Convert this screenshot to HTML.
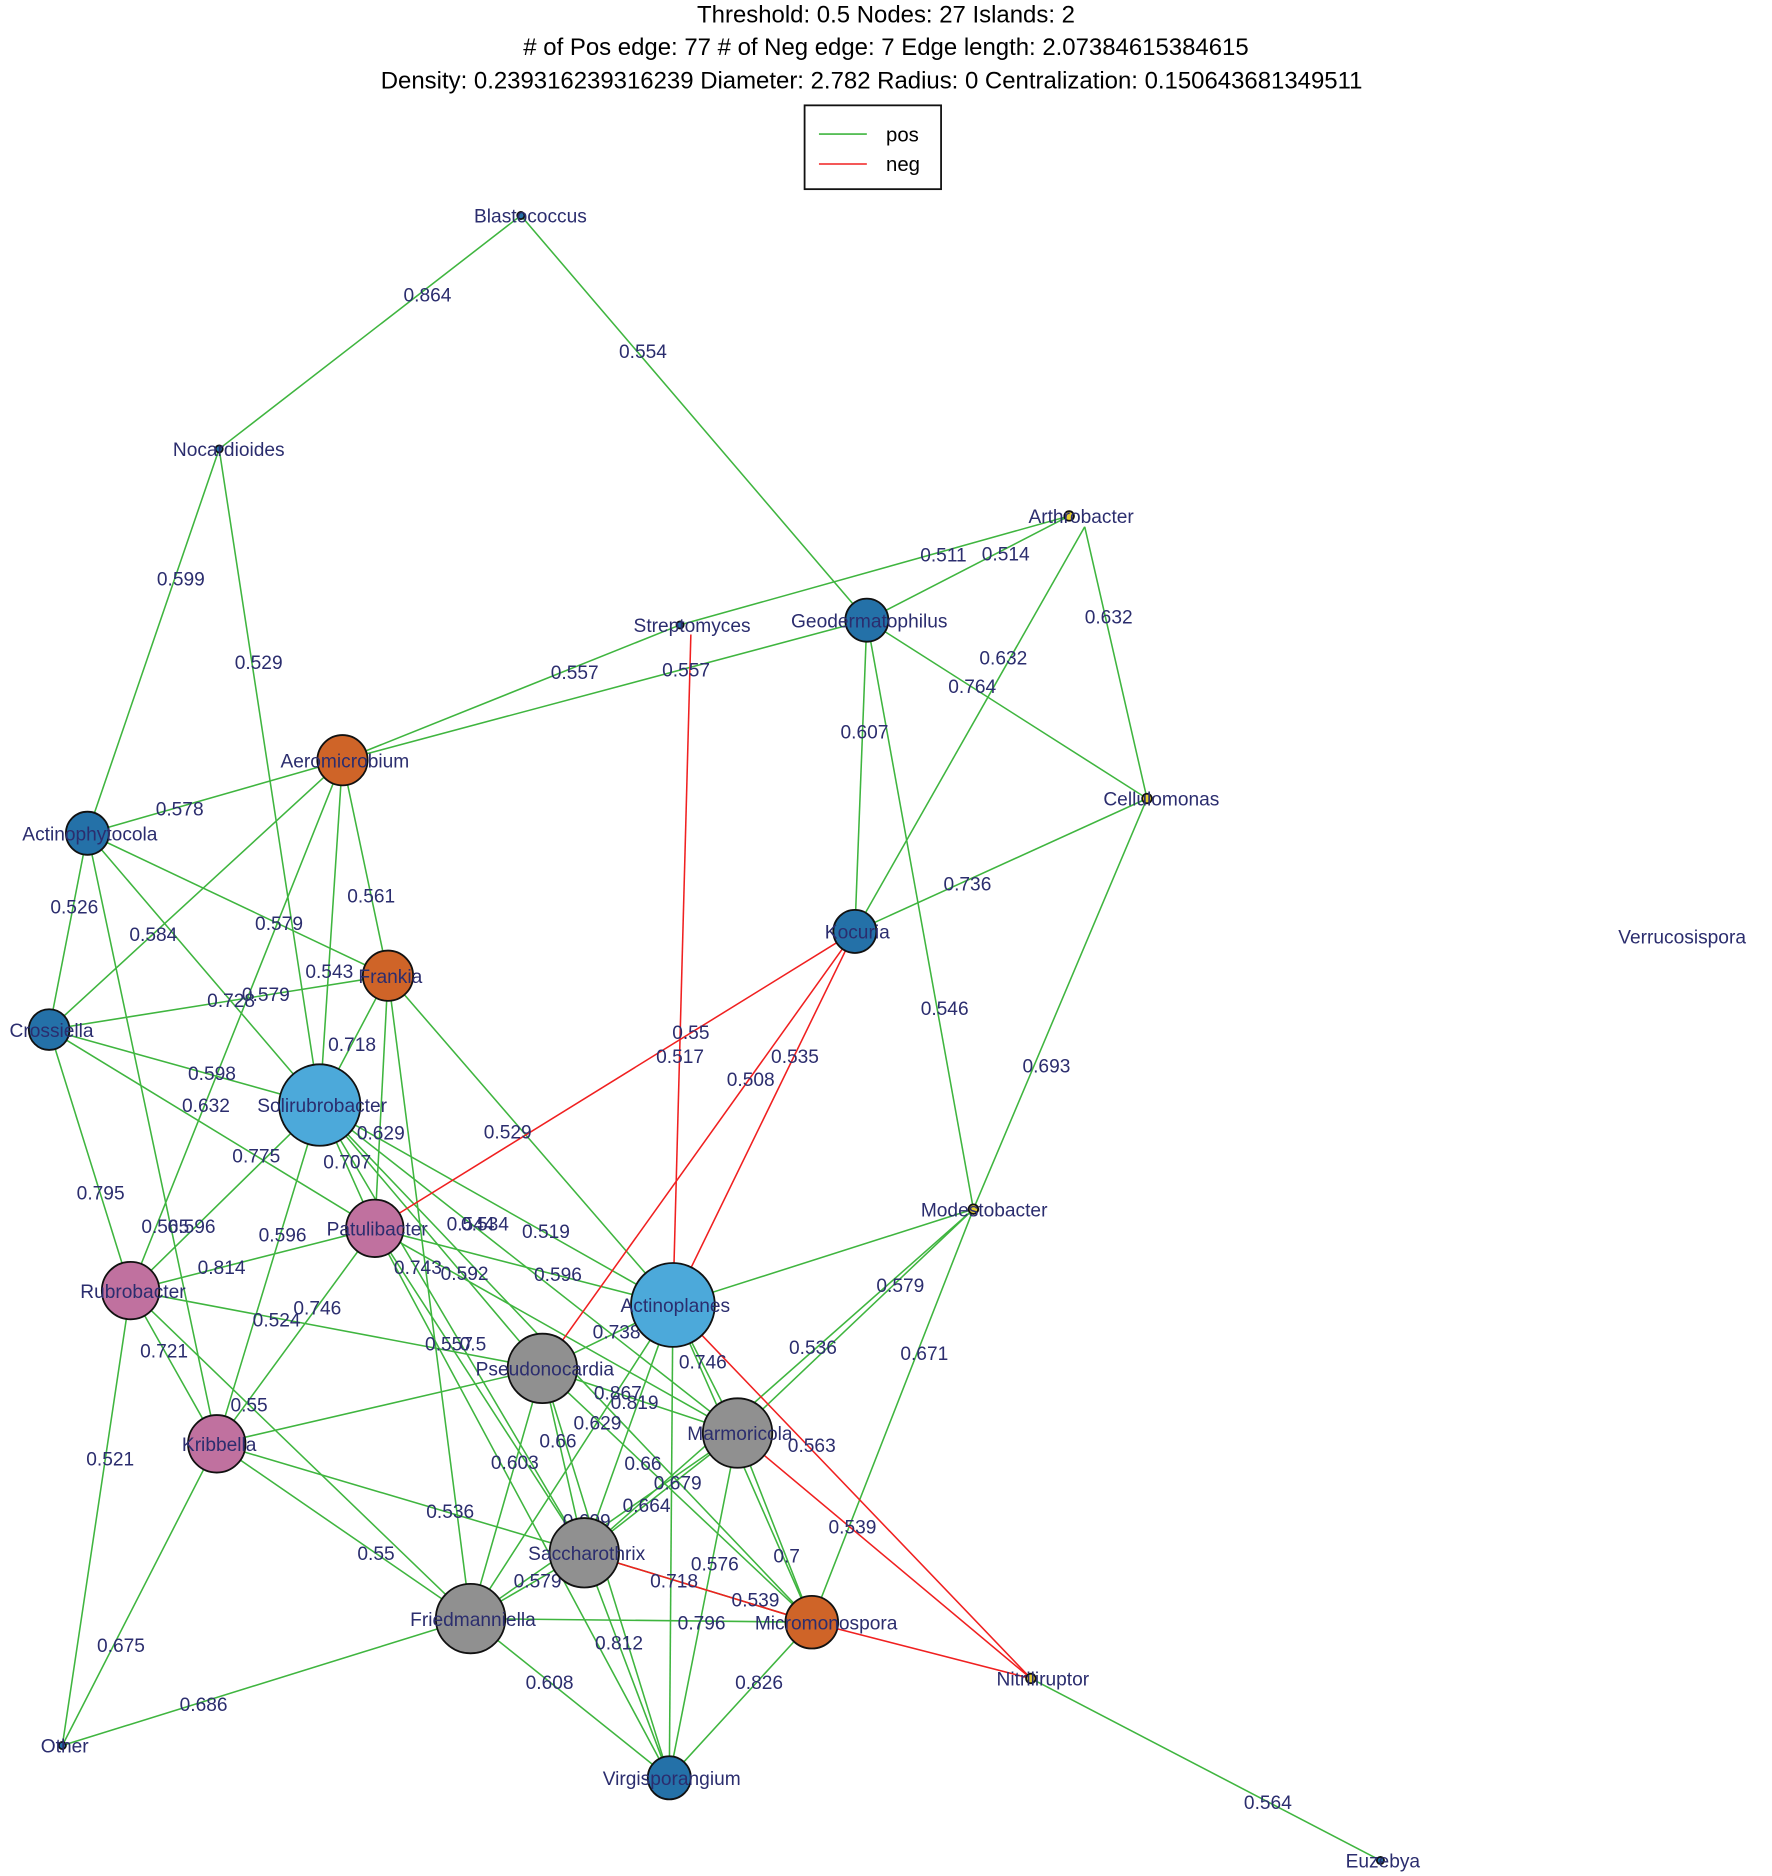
<!DOCTYPE html>
<html><head><meta charset="utf-8"><style>
html,body{margin:0;padding:0;background:#fff}
svg{display:block}
.e{stroke:#3fb53f;stroke-width:1.3;fill:none}
.r{stroke:#f02020;stroke-width:1.3;fill:none}
.l{font-family:"Liberation Sans",sans-serif;font-size:16px;fill:#2b2d6e;text-anchor:middle}
.n{font-family:"Liberation Sans",sans-serif;font-size:16px;fill:#2b2d6e;text-anchor:middle}
.t{font-family:"Liberation Sans",sans-serif;font-size:20px;fill:#000;text-anchor:middle}
circle{stroke:#111;stroke-width:1.5}
</style></head><body>
<svg width="1772" height="1876" viewBox="0 0 1480 1567" xmlns="http://www.w3.org/2000/svg">
<text class="t" x="740" y="19">Threshold:  0.5   Nodes:  27   Islands:  2</text>
<text class="t" x="740" y="46">#  of Pos edge:  77   # of Neg edge:  7   Edge length:  2.07384615384615</text>
<text class="t" x="728" y="74">Density:  0.239316239316239   Diameter:  2.782   Radius:  0   Centralization:  0.150643681349511</text>
<rect x="672" y="88" width="114" height="70" fill="#fff" stroke="#111" stroke-width="1.5"/>
<line x1="684" y1="112" x2="724" y2="112" class="e"/>
<line x1="684" y1="137" x2="724" y2="137" class="r"/>
<text x="740" y="118" style="font-family:'Liberation Sans',sans-serif;font-size:17px">pos</text>
<text x="740" y="143" style="font-family:'Liberation Sans',sans-serif;font-size:17px">neg</text>

<g class="e">
<line x1="435" y1="180" x2="183" y2="375"/>
<line x1="435" y1="180" x2="724" y2="518"/>
<line x1="183" y1="375" x2="73" y2="696"/>
<line x1="183" y1="375" x2="267" y2="923"/>
<line x1="893" y1="431" x2="568" y2="522"/>
<line x1="568" y1="522" x2="286" y2="635"/>
<line x1="893" y1="431" x2="724" y2="518"/>
<line x1="906" y1="440" x2="958" y2="667"/>
<line x1="906" y1="440" x2="714" y2="778"/>
<line x1="724" y1="518" x2="958" y2="667"/>
<line x1="724" y1="518" x2="286" y2="635"/>
<line x1="724" y1="518" x2="714" y2="778"/>
<line x1="724" y1="518" x2="813" y2="1010"/>
<line x1="958" y1="667" x2="714" y2="778"/>
<line x1="958" y1="667" x2="813" y2="1010"/>
<line x1="286" y1="635" x2="73" y2="696"/>
<line x1="286" y1="635" x2="324" y2="815"/>
<line x1="286" y1="635" x2="267" y2="923"/>
<line x1="286" y1="635" x2="41" y2="860"/>
<line x1="286" y1="635" x2="109" y2="1078"/>
<line x1="73" y1="696" x2="324" y2="815"/>
<line x1="73" y1="696" x2="267" y2="923"/>
<line x1="73" y1="696" x2="41" y2="860"/>
<line x1="73" y1="696" x2="181" y2="1206"/>
<line x1="41" y1="860" x2="324" y2="815"/>
<line x1="41" y1="860" x2="267" y2="923"/>
<line x1="41" y1="860" x2="313" y2="1026"/>
<line x1="41" y1="860" x2="109" y2="1078"/>
<line x1="324" y1="815" x2="267" y2="923"/>
<line x1="324" y1="815" x2="313" y2="1026"/>
<line x1="324" y1="815" x2="562" y2="1090"/>
<line x1="324" y1="815" x2="393" y2="1352"/>
<line x1="267" y1="923" x2="109" y2="1078"/>
<line x1="267" y1="923" x2="313" y2="1026"/>
<line x1="267" y1="923" x2="181" y2="1206"/>
<line x1="267" y1="923" x2="562" y2="1090"/>
<line x1="267" y1="923" x2="453" y2="1143"/>
<line x1="267" y1="923" x2="616" y2="1197"/>
<line x1="267" y1="923" x2="488" y2="1297"/>
<line x1="267" y1="923" x2="678" y2="1355"/>
<line x1="313" y1="1026" x2="109" y2="1078"/>
<line x1="313" y1="1026" x2="181" y2="1206"/>
<line x1="313" y1="1026" x2="562" y2="1090"/>
<line x1="313" y1="1026" x2="488" y2="1297"/>
<line x1="313" y1="1026" x2="559" y2="1485"/>
<line x1="313" y1="1026" x2="616" y2="1197"/>
<line x1="109" y1="1078" x2="453" y2="1143"/>
<line x1="109" y1="1078" x2="181" y2="1206"/>
<line x1="109" y1="1078" x2="52" y2="1458"/>
<line x1="109" y1="1078" x2="393" y2="1352"/>
<line x1="181" y1="1206" x2="453" y2="1143"/>
<line x1="181" y1="1206" x2="488" y2="1297"/>
<line x1="181" y1="1206" x2="393" y2="1352"/>
<line x1="181" y1="1206" x2="52" y2="1458"/>
<line x1="562" y1="1090" x2="453" y2="1143"/>
<line x1="562" y1="1090" x2="616" y2="1197"/>
<line x1="562" y1="1090" x2="488" y2="1297"/>
<line x1="562" y1="1090" x2="393" y2="1352"/>
<line x1="562" y1="1090" x2="559" y2="1485"/>
<line x1="562" y1="1090" x2="678" y2="1355"/>
<line x1="813" y1="1010" x2="562" y2="1090"/>
<line x1="813" y1="1010" x2="616" y2="1197"/>
<line x1="813" y1="1010" x2="678" y2="1355"/>
<line x1="813" y1="1010" x2="488" y2="1297"/>
<line x1="453" y1="1143" x2="616" y2="1197"/>
<line x1="453" y1="1143" x2="678" y2="1355"/>
<line x1="453" y1="1143" x2="488" y2="1297"/>
<line x1="453" y1="1143" x2="393" y2="1352"/>
<line x1="453" y1="1143" x2="559" y2="1485"/>
<line x1="616" y1="1197" x2="488" y2="1297"/>
<line x1="616" y1="1197" x2="393" y2="1352"/>
<line x1="616" y1="1197" x2="559" y2="1485"/>
<line x1="616" y1="1197" x2="678" y2="1355"/>
<line x1="488" y1="1297" x2="393" y2="1352"/>
<line x1="488" y1="1297" x2="559" y2="1485"/>
<line x1="488" y1="1297" x2="678" y2="1355"/>
<line x1="393" y1="1352" x2="678" y2="1355"/>
<line x1="393" y1="1352" x2="559" y2="1485"/>
<line x1="393" y1="1352" x2="52" y2="1458"/>
<line x1="678" y1="1355" x2="559" y2="1485"/>
<line x1="861" y1="1402" x2="1153" y2="1554"/>
</g>
<g class="r">
<line x1="577" y1="530" x2="562" y2="1090"/>
<line x1="714" y1="778" x2="313" y2="1026"/>
<line x1="714" y1="778" x2="453" y2="1143"/>
<line x1="714" y1="778" x2="562" y2="1090"/>
<line x1="562" y1="1090" x2="861" y2="1402"/>
<line x1="616" y1="1197" x2="861" y2="1402"/>
<line x1="488" y1="1297" x2="678" y2="1355"/>
<line x1="678" y1="1355" x2="861" y2="1402"/>
</g>

<g class="l">
<text x="357" y="252">0.864</text><text x="537" y="299">0.554</text>
<text x="151" y="489">0.599</text><text x="216" y="559">0.529</text>
<text x="788" y="469">0.511</text><text x="840" y="468">0.514</text>
<text x="926" y="521">0.632</text><text x="838" y="555">0.632</text>
<text x="812" y="579">0.764</text><text x="480" y="567">0.557</text>
<text x="573" y="565">0.557</text><text x="722" y="617">0.607</text>
<text x="808" y="744">0.736</text><text x="789" y="848">0.546</text>
<text x="874" y="896">0.693</text><text x="150" y="681">0.578</text>
<text x="310" y="754">0.561</text><text x="275" y="817">0.543</text>
<text x="128" y="786">0.584</text><text x="233" y="777">0.579</text>
<text x="193" y="841">0.728</text><text x="222" y="836">0.579</text>
<text x="62" y="763">0.526</text><text x="177" y="902">0.598</text>
<text x="172" y="929">0.632</text><text x="84" y="1002">0.795</text>
<text x="294" y="878">0.718</text><text x="318" y="952">0.629</text>
<text x="424" y="951">0.529</text><text x="214" y="971">0.775</text>
<text x="290" y="976">0.707</text><text x="236" y="1037">0.596</text>
<text x="456" y="1034">0.519</text><text x="388" y="1069">0.592</text>
<text x="393" y="1028">0.544</text><text x="405" y="1028">0.534</text>
<text x="349" y="1064">0.743</text><text x="185" y="1064">0.814</text>
<text x="265" y="1098">0.746</text><text x="466" y="1070">0.596</text>
<text x="231" y="1108">0.524</text><text x="138" y="1030">0.565</text>
<text x="160" y="1030">0.596</text><text x="375" y="1128">0.557</text>
<text x="395" y="1128">0.5</text>
<text x="137" y="1134">0.721</text><text x="92" y="1224">0.521</text>
<text x="208" y="1179">0.55</text><text x="376" y="1268">0.536</text>
<text x="314" y="1303">0.55</text><text x="101" y="1380">0.675</text>
<text x="515" y="1118">0.738</text><text x="587" y="1143">0.746</text>
<text x="499" y="1194">0.629</text><text x="466" y="1209">0.66</text>
<text x="516" y="1169">0.867</text><text x="530" y="1177">0.819</text>
<text x="537" y="1228">0.66</text><text x="430" y="1227">0.603</text>
<text x="566" y="1244">0.679</text><text x="540" y="1263">0.664</text>
<text x="490" y="1276">0.609</text><text x="449" y="1326">0.579</text>
<text x="597" y="1312">0.576</text><text x="563" y="1326">0.718</text>
<text x="631" y="1342">0.539</text><text x="657" y="1305">0.7</text>
<text x="752" y="1079">0.579</text><text x="679" y="1131">0.536</text>
<text x="772" y="1136">0.671</text><text x="678" y="1213">0.563</text>
<text x="712" y="1281">0.539</text><text x="586" y="1361">0.796</text>
<text x="517" y="1378">0.812</text><text x="459" y="1411">0.608</text>
<text x="634" y="1411">0.826</text><text x="170" y="1429">0.686</text>
<text x="1059" y="1511">0.564</text>
<text x="577" y="868">0.55</text><text x="568" y="888">0.517</text>
<text x="627" y="907">0.508</text><text x="664" y="888">0.535</text>
</g>

<g>
<circle cx="435" cy="180" r="3" fill="#2471a8"/>
<circle cx="183" cy="375" r="3" fill="#2471a8"/>
<circle cx="893" cy="431" r="4" fill="#e8d030"/>
<circle cx="568" cy="522" r="3" fill="#2471a8"/>
<circle cx="724" cy="518" r="18" fill="#2471a8"/>
<circle cx="958" cy="667" r="4" fill="#e8d030"/>
<circle cx="286" cy="635" r="21" fill="#cf6428"/>
<circle cx="73" cy="696" r="18" fill="#2471a8"/>
<circle cx="714" cy="778" r="18" fill="#2471a8"/>
<circle cx="324" cy="815" r="21" fill="#cf6428"/>
<circle cx="41" cy="860" r="17" fill="#2471a8"/>
<circle cx="267" cy="923" r="34" fill="#4ca9da"/>
<circle cx="813" cy="1010" r="4" fill="#e8d030"/>
<circle cx="313" cy="1026" r="24" fill="#c0719f"/>
<circle cx="109" cy="1078" r="24" fill="#c0719f"/>
<circle cx="562" cy="1090" r="35" fill="#4ca9da"/>
<circle cx="453" cy="1143" r="29" fill="#909090"/>
<circle cx="616" cy="1197" r="29" fill="#909090"/>
<circle cx="181" cy="1206" r="24" fill="#c0719f"/>
<circle cx="488" cy="1297" r="29" fill="#909090"/>
<circle cx="393" cy="1352" r="29" fill="#909090"/>
<circle cx="678" cy="1355" r="22" fill="#cf6428"/>
<circle cx="861" cy="1402" r="4" fill="#e8d030"/>
<circle cx="52" cy="1458" r="3" fill="#2471a8"/>
<circle cx="559" cy="1485" r="18" fill="#2471a8"/>
<circle cx="1153" cy="1554" r="3" fill="#2471a8"/>
</g>

<g class="n">
<text x="443" y="186">Blastococcus</text>
<text x="191" y="381">Nocardioides</text>
<text x="903" y="437">Arthrobacter</text>
<text x="578" y="528">Streptomyces</text>
<text x="726" y="524">Geodermatophilus</text>
<text x="970" y="673">Cellulomonas</text>
<text x="288" y="641">Aeromicrobium</text>
<text x="75" y="702">Actinophytocola</text>
<text x="716" y="784">Kocuria</text>
<text x="1405" y="788">Verrucosispora</text>
<text x="326" y="821">Frankia</text>
<text x="43" y="866">Crossiella</text>
<text x="269" y="929">Solirubrobacter</text>
<text x="822" y="1016">Modestobacter</text>
<text x="315" y="1032">Patulibacter</text>
<text x="111" y="1084">Rubrobacter</text>
<text x="564" y="1096">Actinoplanes</text>
<text x="455" y="1149">Pseudonocardia</text>
<text x="618" y="1203">Marmoricola</text>
<text x="183" y="1212">Kribbella</text>
<text x="490" y="1303">Saccharothrix</text>
<text x="395" y="1358">Friedmanniella</text>
<text x="690" y="1361">Micromonospora</text>
<text x="871" y="1408">Nitriliruptor</text>
<text x="54" y="1464">Other</text>
<text x="561" y="1491">Virgisporangium</text>
<text x="1155" y="1560">Euzebya</text>
</g>
</svg>
</body></html>
